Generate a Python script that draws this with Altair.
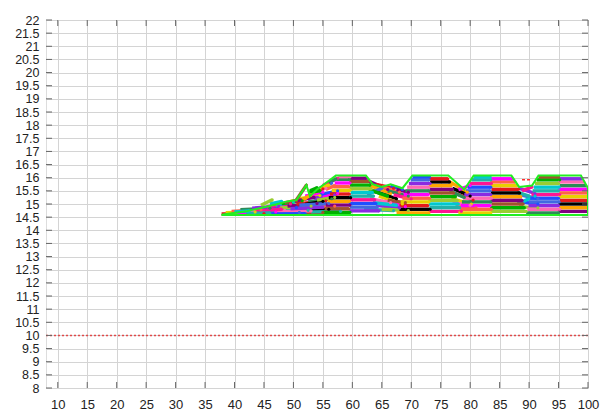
import altair as alt
import pandas as pd

# Axis ticks
x_ticks = [10, 15, 20, 25, 30, 35, 40, 45, 50, 55, 60, 65, 70, 75, 80, 85, 90, 95, 100]
y_ticks = [8, 8.5, 9, 9.5, 10, 10.5, 11, 11.5, 12, 12.5, 13, 13.5, 14, 14.5, 15,
           15.5, 16, 16.5, 17, 17.5, 18, 18.5, 19, 19.5, 20, 20.5, 21, 21.5, 22]

# Threshold level (dotted red line)
ref_level = 10

# Rising front: (x_start, y_start, x_end, y_end)
ramp_segments = [
    (37.8, 14.62, 45.0, 14.64), (38.5, 14.67, 43.5, 14.70), (39.5, 14.72, 44.5, 14.78),
    (40.5, 14.66, 47.0, 14.70), (41.0, 14.78, 46.0, 14.84), (42.5, 14.72, 48.5, 14.76),
    (43.0, 14.84, 47.5, 14.92), (44.0, 14.66, 51.0, 14.68), (45.0, 14.78, 50.5, 14.86),
    (45.5, 14.90, 49.5, 15.00), (46.5, 14.72, 52.5, 14.76), (47.0, 14.96, 50.0, 15.08),
    (47.5, 14.84, 53.0, 14.92), (48.0, 15.02, 51.5, 15.12), (48.5, 14.66, 55.0, 14.68),
    (49.0, 14.92, 54.0, 15.02), (49.5, 15.10, 52.0, 15.20), (50.0, 14.76, 56.0, 14.80),
    (50.5, 15.00, 55.5, 15.12), (51.0, 15.20, 54.5, 15.32), (51.5, 14.86, 57.0, 14.92),
    (52.0, 15.30, 55.0, 15.45), (52.5, 15.08, 56.5, 15.20), (53.0, 15.40, 55.5, 15.60),
    (53.5, 15.22, 57.0, 15.35), (54.0, 15.55, 56.5, 15.80), (54.5, 15.35, 57.5, 15.50),
    (55.0, 15.70, 57.5, 15.98), (53.0, 14.70, 58.0, 14.72), (46.0, 15.00, 48.0, 15.10),
    (44.5, 14.95, 46.4, 15.16), (52.8, 15.50, 54.0, 15.62),
    (48.5, 15.05, 50.5, 15.12), (50.0, 15.10, 53.5, 15.25), (51.5, 15.15, 53.0, 15.35),
    (52.0, 14.98, 55.0, 15.10), (53.5, 15.45, 55.0, 15.58), (54.5, 15.60, 56.0, 15.72),
    (55.5, 15.55, 57.0, 15.70), (55.0, 15.25, 57.5, 15.40), (56.0, 15.82, 57.2, 15.95),
    (47.0, 14.70, 53.0, 14.74), (49.5, 14.82, 55.0, 14.88), (51.0, 14.95, 56.0, 15.02),
    (45.0, 14.62, 52.0, 14.63), (43.5, 14.74, 48.0, 14.80), (42.0, 14.64, 46.0, 14.66),
    (40.0, 14.70, 42.5, 14.74), (54.0, 15.15, 57.0, 15.25), (52.5, 15.45, 54.5, 15.50),
    (50.5, 15.15, 52.2, 15.72),
]

# Stacked runs: (x_start, x_end, y)
block_a = [
    (55.0, 59.6, 14.68), (55.3, 59.4, 14.82), (55.5, 59.6, 14.96), (55.8, 59.5, 15.10),
    (56.0, 59.7, 15.24), (56.2, 59.5, 15.38), (56.5, 59.6, 15.52), (56.8, 59.4, 15.66),
    (57.0, 59.6, 15.80), (57.3, 59.5, 15.94), (57.6, 59.6, 16.04),
    (59.5, 64.5, 14.74), (59.6, 64.2, 14.88), (59.4, 64.0, 15.02), (59.6, 63.8, 15.16),
    (59.5, 63.6, 15.30), (59.7, 63.4, 15.44), (59.5, 63.2, 15.58), (59.6, 63.0, 15.72),
    (59.5, 62.7, 15.86), (59.6, 62.4, 15.98),
]
block_b = [
    (67.5, 73.0, 14.66), (68.0, 73.2, 14.80), (68.0, 72.8, 14.94), (68.2, 73.0, 15.08),
    (68.5, 73.1, 15.22), (68.7, 72.9, 15.36), (69.0, 73.0, 15.50), (69.3, 73.0, 15.64),
    (69.6, 73.2, 15.78), (69.9, 73.0, 15.92), (70.2, 73.1, 16.03),
    (73.0, 78.5, 14.72), (73.1, 78.2, 14.86), (73.0, 78.0, 15.00), (72.9, 77.8, 15.14),
    (73.2, 77.5, 15.28), (73.0, 77.2, 15.42), (73.1, 77.0, 15.56), (73.0, 76.8, 15.70),
    (73.2, 76.5, 15.84), (73.0, 76.2, 15.96),
]
block_c = [
    (78.0, 83.5, 14.66), (78.2, 83.6, 14.80), (78.4, 83.4, 14.94), (78.6, 83.5, 15.08),
    (78.8, 83.6, 15.22), (79.0, 83.5, 15.36), (79.3, 83.4, 15.50), (79.6, 83.5, 15.64),
    (79.9, 83.6, 15.78), (80.2, 83.5, 15.92), (80.6, 83.4, 16.03),
    (83.5, 89.5, 14.72), (83.4, 89.2, 14.86), (83.6, 89.0, 15.00), (83.5, 88.8, 15.14),
    (83.4, 88.6, 15.28), (83.5, 88.4, 15.42), (83.6, 88.2, 15.56), (83.5, 87.9, 15.70),
    (83.4, 87.6, 15.84), (83.5, 87.2, 15.96),
]
block_d = [
    (89.5, 95.0, 14.66), (89.7, 95.2, 14.80), (89.9, 95.0, 14.94), (90.0, 95.1, 15.08),
    (90.2, 95.0, 15.22), (90.4, 95.2, 15.36), (90.6, 95.0, 15.50), (90.8, 95.1, 15.64),
    (91.0, 95.0, 15.78), (91.3, 95.2, 15.92), (91.6, 95.0, 16.03),
    (95.0, 100.0, 14.72), (95.1, 100.0, 14.86), (95.0, 100.0, 15.00), (95.2, 100.0, 15.14),
    (95.0, 100.0, 15.28), (95.1, 100.0, 15.42), (95.0, 99.8, 15.56), (95.2, 99.6, 15.70),
    (95.0, 99.3, 15.84), (95.1, 98.9, 15.96),
]

# Sloping strokes between the blocks: (x_start, y_start, x_end, y_end)
valley_segments = [
    (62.5, 15.90, 66.0, 15.55), (63.0, 15.70, 66.5, 15.40), (63.5, 15.50, 67.5, 15.20),
    (64.0, 15.75, 67.0, 15.60), (64.5, 15.30, 68.5, 15.00), (65.0, 15.65, 68.0, 15.45),
    (65.5, 15.10, 69.0, 14.90), (66.0, 15.50, 69.5, 15.30), (63.0, 15.20, 66.5, 15.05),
    (64.0, 14.95, 68.0, 14.85), (62.5, 15.35, 65.0, 15.60), (66.5, 15.70, 68.5, 15.55),
    (67.0, 15.35, 70.0, 15.20), (62.0, 14.80, 67.0, 14.75),
    (63.5, 15.05, 67.5, 14.95), (65.0, 14.80, 69.5, 14.75), (62.8, 15.55, 66.0, 15.30),
    (66.0, 15.15, 69.0, 15.05), (67.5, 15.55, 69.5, 15.45),
    (76.5, 15.85, 79.5, 15.45), (77.0, 15.60, 80.0, 15.30), (77.5, 15.40, 80.5, 15.15),
    (76.8, 15.20, 80.2, 15.00), (77.5, 14.95, 81.0, 14.85), (78.0, 15.55, 80.0, 15.70),
    (76.5, 15.50, 79.0, 15.25), (77.0, 15.05, 80.0, 14.95),
    (88.2, 15.60, 91.0, 15.40), (88.5, 15.35, 91.5, 15.20), (88.0, 15.10, 91.5, 15.00),
    (88.8, 15.50, 90.5, 15.65), (88.0, 15.45, 90.0, 15.30), (89.0, 15.10, 91.0, 15.30),
    (88.3, 14.90, 91.5, 14.85),
]

# Dashed red vector
red_vector = (88.8, 15.92, 90.5, 15.92)

# Outline of the cloud
envelope_x = [38.0, 42.0, 45.0, 47.0, 49.0, 50.5, 52.2, 52.8, 54.0, 55.5, 57.2, 62.3,
              63.5, 65.0, 66.5, 68.5, 70.2, 76.3, 77.5, 79.0, 80.6, 87.0, 88.3, 90.5,
              91.6, 98.8, 100.0, 100.0, 37.8, 38.0]
envelope_y = [14.60, 14.72, 14.88, 14.98, 15.10, 15.15, 15.72, 15.30, 15.55, 15.80,
              16.08, 16.08, 15.75, 15.65, 15.75, 15.60, 16.08, 16.08, 15.85, 15.55,
              16.08, 16.08, 15.65, 15.70, 16.08, 16.08, 15.60, 14.58, 14.58, 14.60]

palette = ["#e41a1c", "#00b000", "#1f4fff", "#ff00ff", "#ffa500", "#00c8d0",
           "#8a2be2", "#e8d000", "#a0522d", "#ff1493", "#2e8b57", "#000000",
           "#9acd32", "#4169e1", "#ff6347", "#800080", "#20b2aa", "#ff69b4"]

rows = []
for (x1, y1, x2, y2) in ramp_segments + valley_segments:
    rows.append((x1, y1, x2, y2))
for (x1, x2, y) in block_a + block_b + block_c + block_d:
    rows.append((x1, y, x2, y))
seg_df = pd.DataFrame(rows, columns=["x1", "y1", "x2", "y2"])
seg_df["col"] = [palette[(i * 7) % len(palette)] for i in range(len(seg_df))]

env_df = pd.DataFrame({"x": envelope_x, "y": envelope_y, "i": range(len(envelope_x))})
ref_df = pd.DataFrame({"y": [ref_level]})
red_df = pd.DataFrame([red_vector], columns=["x1", "y1", "x2", "y2"])
xtick_df = pd.DataFrame({"x": x_ticks})
ytick_df = pd.DataFrame({"y": y_ticks})

W, H = 542, 368
x_scale = alt.Scale(domain=[8, 100], nice=False, zero=False)
y_scale = alt.Scale(domain=[8, 22], nice=False, zero=False)
label_font = "Liberation Sans"
x_axis = alt.Axis(values=x_ticks, grid=True, gridColor="#d4d4d4", ticks=False, domain=False,
                  labelFlush=False, labelPadding=10, labelFontSize=13, labelFont=label_font,
                  labelColor="#222222", title=None, labelOverlap=False)
y_axis = alt.Axis(values=y_ticks, grid=True, gridColor="#d4d4d4", ticks=False, domain=False,
                  format="~g", labelPadding=7, labelFontSize=12.5, labelFont=label_font,
                  labelColor="#222222", title=None, labelOverlap=False, labelBound=False)


def xq(field):
    return alt.X(f"{field}:Q", scale=x_scale, axis=x_axis)


def yq(field):
    return alt.Y(f"{field}:Q", scale=y_scale, axis=y_axis)


ref_line = alt.Chart(ref_df).mark_rule(color="#e03030", strokeWidth=1.5, strokeDash=[2, 2],
                                       opacity=0.85).encode(y=yq("y"))

segs = alt.Chart(seg_df).mark_rule(strokeWidth=3.4, clip=True).encode(
    x=xq("x1"), y=yq("y1"), x2="x2:Q", y2="y2:Q", color=alt.Color("col:N", scale=None))

heads = alt.Chart(seg_df).mark_circle(size=10, opacity=1, clip=True).encode(
    x=xq("x2"), y=yq("y2"), color=alt.Color("col:N", scale=None))

red_vec = alt.Chart(red_df).mark_rule(color="#ff3030", strokeWidth=1.5, strokeDash=[3, 2]).encode(
    x=xq("x1"), y=yq("y1"), x2="x2:Q", y2="y2:Q")

envelope = alt.Chart(env_df).mark_line(color="#22ee22", strokeWidth=2, clip=True).encode(
    x=xq("x"), y=yq("y"), order="i:Q")

tick_color = "#666666"
left_ticks = alt.Chart(ytick_df).mark_rule(color=tick_color).encode(
    y=yq("y"), x=alt.value(0), x2=alt.value(6))
right_ticks = alt.Chart(ytick_df).mark_rule(color=tick_color).encode(
    y=yq("y"), x=alt.value(W - 6), x2=alt.value(W))
bottom_ticks = alt.Chart(xtick_df).mark_rule(color=tick_color).encode(
    x=xq("x"), y=alt.value(H - 6), y2=alt.value(H))
top_ticks = alt.Chart(xtick_df).mark_rule(color=tick_color).encode(
    x=xq("x"), y=alt.value(0), y2=alt.value(6))

chart = alt.layer(
    ref_line, segs, heads, envelope, red_vec,
    left_ticks, right_ticks, bottom_ticks, top_ticks,
).properties(
    width=W, height=H,
    padding={"left": 46, "top": 20, "right": 16, "bottom": 22},
    autosize=alt.AutoSizeParams(type="none"),
).configure_view(
    stroke="#555555", strokeWidth=1.5,
).configure(background="white")

chart.save("out.html", embed_options={"renderer": "svg", "actions": False})
